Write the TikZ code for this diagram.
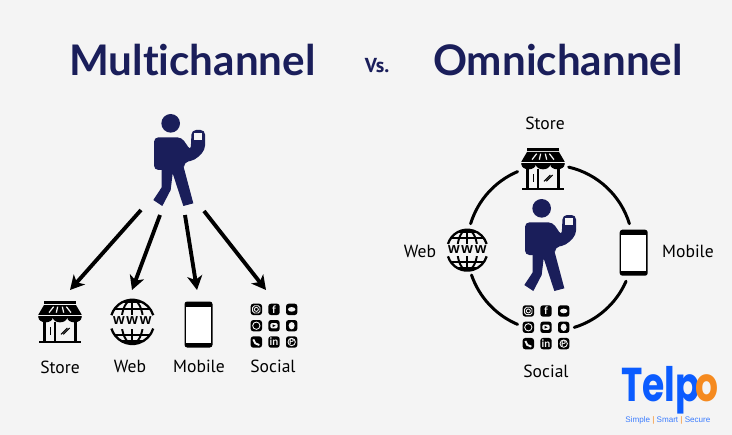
\documentclass[tikz,border=0pt]{standalone}
\usepackage{fontspec}
\setmainfont{PT Sans}
\newfontfamily\titlefont[Ligatures=CommonOff]{Lato}
\newfontfamily\logofont{Poppins}
\newfontfamily\tagfont{Liberation Sans}
\usetikzlibrary{arrows.meta,calc}
\definecolor{paper}{HTML}{F4F4F4}
\definecolor{navy}{HTML}{1A1E5A}
\definecolor{telpoblue}{HTML}{0B5CFF}
\definecolor{telpoorange}{HTML}{F58A1F}
\tikzset{
    heading/.style={text=navy, font=\titlefont\bfseries\fontsize{24}{26}\selectfont},
    channel/.style={font=\fontsize{10}{12}\selectfont},
    ring/.style={line width=1.7pt, line cap=round},
    pointer/.style={line width=2.2pt, -{Stealth[length=8pt, width=8.5pt, inset=2.2pt]}},
    pics/person/.style={code={
        \begin{scope}[scale=1/3]
            \fill[navy](122,-110)circle(28);
            \fill[navy, rounded corners=2.5pt](72,30)--(72,-68)--(155,-68)--(182,-28)--(185,-90)--(225,-90)--(225,-30)--(195,0)--(162,7)--(162,30)--cycle;
            \fill[navy](95,20)--(95,82)--(70,120)--(97,138)--(122,90)--(128,40)--(160,138)--(190,130)--(158,10)--cycle;
            \fill[paper](193,-82)rectangle(215,-60);
        \end{scope}
    }},
    pics/store/.style={code={
        \begin{scope}[scale=1/3]
            \fill(-47,-62)rectangle(47,-55);
            \fill(-48,-51)--(48,-51)--(65,-22)--(65,-14)--(-65,-14)--(-65,-22)--cycle;
            \foreach \lobe in {-43,0,43}{
                \fill(\lobe,-14)ellipse[x radius=21.7, y radius=15];
            }
            \foreach \slat/\lean in {-26/-7,-9/-2,9/2,26/7}{
                \draw[paper, line width=.7pt](\slat-\lean,-46)--(\slat+\lean,-28);
            }
            \draw[paper, line width=.4pt](-65,-20)--(65,-20);
            \fill(-52,1)rectangle(-42,58);
            \fill(-18,1)rectangle(-13,58);
            \fill(42,1)rectangle(52,58);
            \fill(-64,56)rectangle(64,63);
            \draw[line width=.7pt](-29,15)--(-29,40);
            \draw[line width=.6pt](3,37)--(22,18)(10,37)--(29,18);
        \end{scope}
    }},
    pics/globe/.style={code={
        \begin{scope}[scale=1/3]
            \begin{scope}
                \clip(0,0)circle(61);
                \draw[line width=1.1pt](0,-61)--(0,61);
                \draw[line width=1.1pt](0,0)ellipse[x radius=30, y radius=61];
                \draw[line width=1.1pt](-61,-36)--(61,-36)(-61,36)--(61,36);
                \fill(-61,-61)rectangle(61,-52);
                \fill(-61,52)rectangle(61,61);
                \fill[paper](-61,-18)rectangle(61,19);
            \end{scope}
            \draw[line width=1.3pt](-58,-18)arc(197:343:60.7);
            \draw[line width=1.3pt](-58,19)arc(163:17:60.7);
            \node[font=\tagfont\bfseries\fontsize{8.5}{10}\selectfont, inner sep=0pt](www)at(0,-2){w\kern1pt w\kern1pt w};
        \end{scope}
    }},
    pics/handset/.style={code={
        \begin{scope}[scale=1/3]
            \fill[rounded corners=1.5pt](-42,-69)rectangle(42,69);
            \fill[white!97!paper](-38,-54)rectangle(38,54);
        \end{scope}
    }},
    glyph/.style={text=paper, inner sep=0pt, font=\titlefont\bfseries\fontsize{6}{6}\selectfont},
    pics/apps/.style={code={
        \begin{scope}[scale=1/3]
            % tiles
            \foreach \col in {-53,0,53}{
                \foreach \row in {-49,0,49}{
                    \fill[rounded corners=1.5pt](\col-17,\row-17)rectangle(\col+17,\row+17);
                }
            }
            % logos
            \draw[paper, line width=.5pt, rounded corners=1pt](-64,-60)rectangle(-42,-38);
            \draw[paper, line width=.5pt](-53,-49)circle(6);
            \node[glyph](fb)at(0,-49){f};
            \fill[paper](53,-49)ellipse[x radius=11, y radius=7];
            \draw[paper, line width=.5pt](-53,0)circle(11);
            \fill[paper, rounded corners=.8pt](-11,-8)rectangle(11,8);
            \fill(-4,-4)--(5,0)--(-4,4)--cycle;
            \fill[paper](53,0)ellipse[x radius=9, y radius=11];
            \draw[paper, line width=1.1pt](-62,41)to[bend right=40](-44,58);
            \node[glyph](li)at(0,49){in};
            \draw[paper, line width=.5pt](53,49)circle(11);
            \node[glyph, font=\titlefont\bfseries\fontsize{4.5}{5}\selectfont](pin)at(53,49){P};
        \end{scope}
    }}
}
\begin{document}
\begin{tikzpicture}[x=0.02cm, y=-0.02cm]
    \useasboundingbox(0,0)rectangle(732,435);
    \fill[paper](0,0)rectangle(732,435);
    % titles
    \node[heading](multi)at(192.5,60){Multichannel};
    \node[heading](omni)at(558,60){Omnichannel};
    \node[text=navy, font=\bfseries\fontsize{11.5}{12}\selectfont](versus)at(377,66){Vs.};
    % multichannel
    \pic at(130,160){person};
    \coordinate(from1)at(141,210);
    \coordinate(from2)at(160,215);
    \coordinate(from3)at(185,215);
    \coordinate(from4)at(204,211);
    \coordinate(to1)at(70,290);
    \coordinate(to2)at(132,290);
    \coordinate(to3)at(197,290);
    \coordinate(to4)at(266,290);
    \foreach \i in {1,2,3,4}{
        \path[draw, pointer](from\i)to(to\i);
    }
    \pic at(60,322){store};
    \pic at(132.3,321.7)[scale=1.08]{globe};
    \pic at(198.5,324.5){handset};
    \pic at(274,325.7){apps};
    \node[channel](store1)at(60,367){Store};
    \node[channel](web1)at(130,366){Web};
    \node[channel](mobile1)at(199,366){Mobile};
    \node[channel](social1)at(273,366){Social};
    % omnichannel
    \coordinate(hub)at(550,248);
    \foreach \from/\to in {-77/-17,23.6/73,113/161,197/247}{
        \path[draw, ring]($(hub)+(\from:83)$)arc(\from:\to:83);
    }
    \pic at(501,245){person};
    \pic at(543,169){store};
    \pic at(467.3,250){globe};
    \pic at(633.7,252.7){handset};
    \pic at(546,327.3){apps};
    \node[channel](store2)at(545,123){Store};
    \node[channel](web2)at(420,251){Web};
    \node[channel](mobile2)at(688,251){Mobile};
    \node[channel](social2)at(546,371){Social};
    % logo
    \node[anchor=base west, inner sep=0pt, text=telpoblue, font=\logofont\bfseries\fontsize{27}{28}\selectfont](telpo)at(621,401){\scalebox{0.76}[1]{Telp\kern-3pt\textcolor{telpoorange}{o}}};
    \node[anchor=base west, inner sep=0pt, text=telpoblue!80!white, font=\tagfont\fontsize{4.6}{6}\selectfont](motto)at(625,422){Simple \textcolor{telpoorange}{|} Smart \textcolor{telpoorange}{|} Secure};
\end{tikzpicture}
\end{document}
